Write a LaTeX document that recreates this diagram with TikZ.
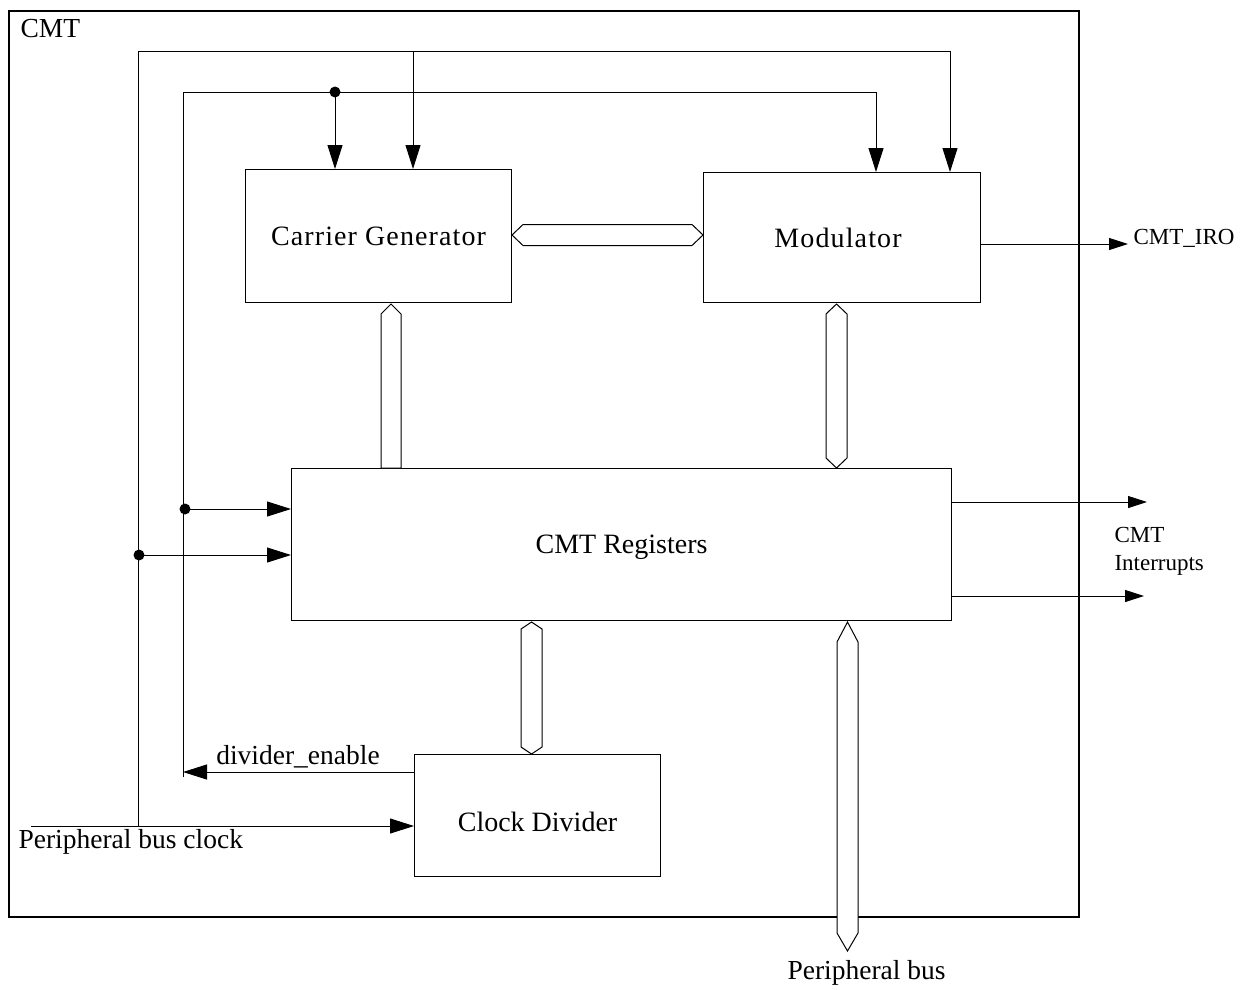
\documentclass[tikz,border=0pt]{standalone}
\usepackage{fontspec}
\setmainfont{Liberation Serif}
\usetikzlibrary{arrows.meta,calc}
\newcommand{\vbusshape}[6]{% x, ytop, ybot, tip top, tip bottom, half width
  \draw[bus] (#1,#2) -- (#1+#6,#2+#4) -- (#1+#6,#3-#5) -- (#1,#3) -- (#1-#6,#3-#5) -- (#1-#6,#2+#4) -- cycle;}
\begin{document}
\begin{tikzpicture}[x=1pt,y=-1pt,line width=1pt,
  blk/.style={draw,rectangle,anchor=north west,inner sep=0pt,line width=1.1pt,font=\fontsize{28}{32}\selectfont},
  lbl/.style={inner sep=0pt,font=\fontsize{27.5}{32}\selectfont},
  sml/.style={inner sep=0pt,font=\fontsize{23}{27}\selectfont},
  big/.style={-{Triangle[length=24pt,width=15pt]}},
  small/.style={-{Triangle[length=19pt,width=12pt]}},
  bus/.style={draw,fill=white,line width=1pt},
  dot/.style={circle,fill,inner sep=0pt,minimum size=11pt}]
\useasboundingbox (0,0) rectangle (1249,989);

% outer block
\draw[line width=1.1pt] (9,11) rectangle (1079,917);
\node[lbl,anchor=base west] (title) at (20,37) {CMT};

% blocks
\node[blk,minimum width=266pt,minimum height=133pt] (cg) at (245,169) {\addfontfeature{LetterSpace=4}Carrier Generator};
\node[blk,minimum width=277pt,minimum height=130pt] (mod) at (703,172) {\addfontfeature{LetterSpace=4}\hspace*{-8pt}Modulator};
\node[blk,minimum width=660pt,minimum height=152pt] (reg) at (291,468) {\raisebox{-3pt}[\height][\depth]{CMT Registers}};
\node[blk,minimum width=246pt,minimum height=122pt] (cd) at (414,754) {\raisebox{-6pt}[\height][\depth]{Clock Divider}};

% peripheral bus clock tree
\coordinate (pbcS) at (31,826);
\coordinate (oB) at (138,826);
\coordinate (oT) at (138,51);
\coordinate (oC) at (413,51);
\coordinate (oR) at (950,51);
\coordinate (oD) at (139,555);
\draw[big] (pbcS) -- (pbcS -| cd.west);
\draw (oB) -- (oT) -- (oR);
\draw[big] (oC) -- (oC |- cg.north);
\draw[big] (oR) -- (oR |- mod.north);
\node[dot] (d2) at (oD) {};
\draw[big] (oD) -- (oD -| reg.west);
\node[lbl,anchor=base west] (pbclbl) at (18,848) {Peripheral bus clock};

% divider_enable tree
\coordinate (iB) at (183,777);
\coordinate (iE) at (183,772);
\coordinate (iT) at (183,92);
\coordinate (iC) at (335,92);
\coordinate (iR) at (876,92);
\coordinate (iD) at (185,509);
\draw (iB) -- (iT) -- (iR);
\node[dot] (d0) at (iC) {};
\draw[big] (iC) -- (iC |- cg.north);
\draw[big] (iR) -- (iR |- mod.north);
\node[dot] (d1) at (iD) {};
\draw[big] (iD) -- (iD -| reg.west);
\draw[big] (iE -| cd.west) -- (iE);
\node[lbl,anchor=base] (delbl) at (298,764) {divider\_enable};

% outputs
\coordinate (iro) at (1128,244);
\draw[small] (iro -| mod.east) -- (iro);
\node[sml,anchor=base west] (irolbl) at (1133,244) {CMT\_IRO};
\coordinate (int1) at (1147,502);
\coordinate (int2) at (1144,596);
\draw[small] (int1 -| reg.east) -- (int1);
\draw[small] (int2 -| reg.east) -- (int2);
\node[sml,anchor=base west] (intlbl1) at (1114,542) {CMT};
\node[sml,anchor=base west] (intlbl2) at (1114,570) {Interrupts};

% buses
\draw[bus] (512,235) -- (523,224.5) -- (692,224.5) -- (703,235) -- (692,245.5) -- (523,245.5) -- cycle;
\vbusshape{391}{304}{468}{10}{0}{10}
\vbusshape{836.5}{304}{468}{10}{10}{10.5}
\vbusshape{531.5}{622}{754}{7}{7}{10.5}
\vbusshape{847.5}{622}{951}{20}{18}{10.5}
\node[lbl,anchor=base west] (pblbl) at (787,979) {Peripheral bus};
\end{tikzpicture}
\end{document}
